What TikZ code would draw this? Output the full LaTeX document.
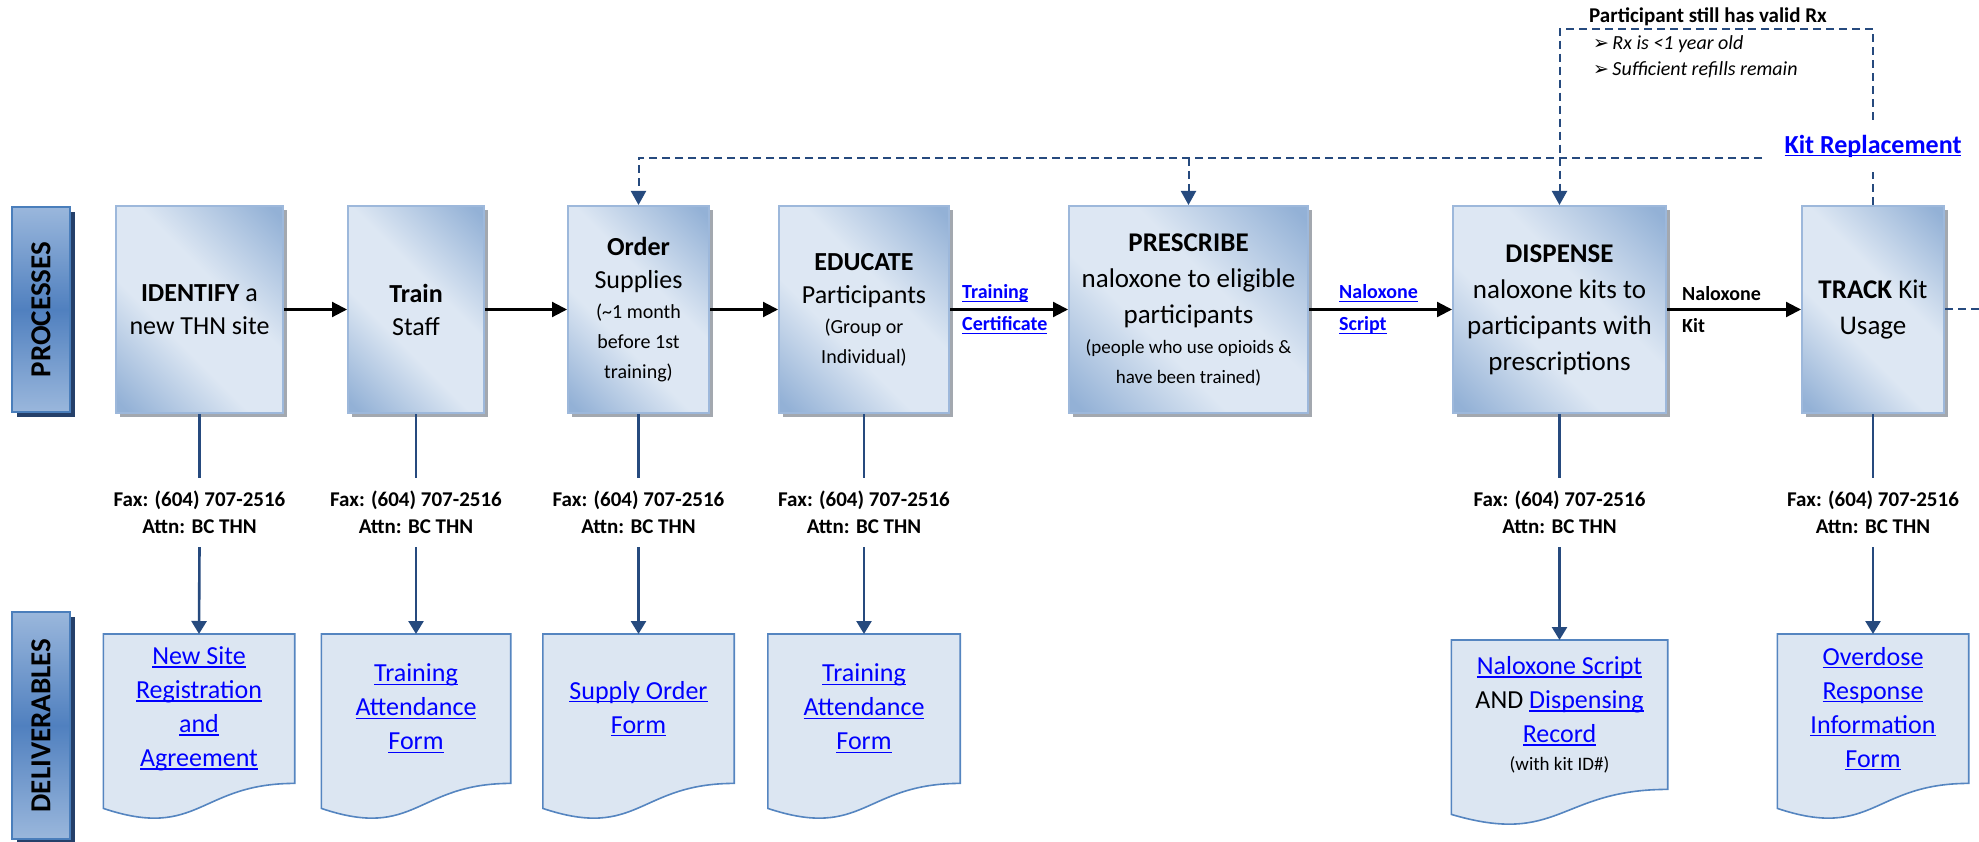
\documentclass[tikz,border=0pt]{standalone}
\usepackage{fontspec}
\setmainfont{Carlito}
\newfontfamily\dingfont{DejaVu Sans}
\usetikzlibrary{arrows.meta}
\usetikzlibrary{shadows}
\usetikzlibrary{backgrounds}
\usetikzlibrary{calc}
\usetikzlibrary{math}

\definecolor{procLight}{HTML}{DDE7F3}
\definecolor{procDark}{HTML}{93B1D6}
\definecolor{procBorder}{HTML}{9DB8DB}
\definecolor{procShadow}{HTML}{A3A8AF}
\definecolor{sideLight}{HTML}{9AB7DC}
\definecolor{sideDark}{HTML}{5080BF}
\definecolor{sideBorder}{HTML}{4A7EBB}
\definecolor{sideShadow}{HTML}{25406A}
\definecolor{docFill}{HTML}{DCE6F2}
\definecolor{docBorder}{HTML}{5585C0}
\definecolor{navy}{HTML}{264A7E}
\definecolor{linkblue}{HTML}{0000FF}

\pgfdeclarehorizontalshading{procshade}{100bp}{color(0bp)=(procDark); color(17bp)=(procDark); color(40bp)=(procLight); color(58bp)=(procLight); color(83bp)=(procDark); color(100bp)=(procDark)}

% underlined link text
\newsavebox{\lnkbox}
\newcommand{\lnk}[1]{\textcolor{linkblue}{\sbox{\lnkbox}{#1}\rlap{\rule[-3.4pt]{\wd\lnkbox}{1.4pt}}\usebox{\lnkbox}}}
\newcommand{\procfont}{\fontsize{26}{33}\selectfont}
\newcommand{\bigprocfont}{\fontsize{27}{36}\selectfont}
\newcommand{\notefont}{\fontsize{20}{30}\selectfont}
\newcommand{\faxfont}{\fontsize{21}{27}\selectfont\bfseries}
\newcommand{\docfont}{\fontsize{26}{34}\selectfont}
\newcommand{\docnotefont}{\fontsize{19}{28}\selectfont}
\newcommand{\labelfont}{\fontsize{20}{32}\selectfont\bfseries}
\newcommand{\sidefont}{\fontsize{29}{29}\selectfont\bfseries}

\tikzset{
  procbox/.style={rectangle, draw=procBorder, line width=2pt, shade, shading=procshade,
    shading angle=45, general shadow={fill=procShadow, shadow xshift=4pt, shadow yshift=-4pt},
    inner sep=0pt, minimum height=207pt, align=flush center, font=\procfont},
  sidebox/.style={rectangle, draw=sideBorder, line width=2.5pt, top color=sideLight,
    bottom color=sideLight, middle color=sideDark,
    general shadow={fill=sideShadow, shadow xshift=5pt, shadow yshift=-5pt},
    inner sep=0pt, minimum width=58pt, font=\sidefont},
  docnode/.style={inner sep=0pt, minimum height=149pt, anchor=north, align=flush center, font=\docfont},
  docline/.style={draw=docBorder, line width=1.6pt, fill=docFill},
  faxnode/.style={inner sep=0pt, minimum height=69pt, align=center, font=\faxfont},
  arrowlabel/.style={inner sep=0pt, anchor=west, align=left, font=\labelfont},
  flow/.style={line width=2.2pt, black, -{Triangle[length=15pt, width=15pt]}},
  vline/.style={line width=2.6pt, navy},
  docarrow/.style={vline, -{Triangle[length=13pt, width=15pt]}},
  loopline/.style={line width=2pt, navy, dash pattern=on 8pt off 5pt},
  looparrow/.style={loopline, -{Triangle[length=14pt, width=15pt]}},
}

\begin{document}
\begin{tikzpicture}[x=1pt, y=-1pt]

  \tikzmath{
    \rowy   = 309.5; % centre line of the process boxes
    \faxy   = 512.5; % centre of the fax notes
    \doctop = 634;   % top edge of the deliverables
  }

  \useasboundingbox (0,0) rectangle (1979,842);

  % Row labels
  \node[sidebox, minimum height=205pt] (procside) at (41,\rowy) {\rotatebox{90}{PROCESSES}};
  \node[sidebox, minimum height=227pt] (delivside) at (41,725.5) {\rotatebox{90}{DELIVERABLES}};

  % Process boxes
  \node[procbox, minimum width=167pt, text width=150pt] (identify) at (199.5,\rowy)
    {\textbf{IDENTIFY} a\\new THN site};
  \node[procbox, minimum width=136pt, text width=120pt] (train) at (416,\rowy)
    {\textbf{Train}\\Staff};
  \node[procbox, minimum width=141pt, text width=134pt] (order) at (638.5,\rowy)
    {\textbf{Order}\\Supplies\par{\notefont (\textasciitilde1 month\\before 1st\\training)\par}};
  \node[procbox, minimum width=170pt, text width=158pt] (educate) at (864,\rowy)
    {\textbf{EDUCATE}\\Participants\par{\notefont (Group or\\Individual)\par}};
  \node[procbox, minimum width=239pt, text width=239pt, font=\bigprocfont] (prescribe) at (1188.5,\rowy)
    {\textbf{PRESCRIBE}\\naloxone to eligible\\participants\par{\fontsize{19}{30}\selectfont (people who use opioids \&\\have been trained)\par}};
  \node[procbox, minimum width=213pt, text width=200pt, font=\bigprocfont] (dispense) at (1559.5,\rowy)
    {\textbf{DISPENSE}\\naloxone kits to\\participants with\\prescriptions};
  \node[procbox, minimum width=142pt, text width=132pt, font=\bigprocfont] (track) at (1873,\rowy)
    {\textbf{TRACK} Kit\\Usage};

  % Flow between the processes
  \draw[flow] (identify.east) -- (train.west);
  \draw[flow] (train.east) -- (order.west);
  \draw[flow] (order.east) -- (educate.west);
  \draw[flow] (educate.east) -- (prescribe.west);
  \draw[flow] (prescribe.east) -- (dispense.west);
  \draw[flow] (dispense.east) -- (track.west);

  \node[arrowlabel] (certlabel) at (962,\rowy) {\lnk{Training}\\\lnk{Certificate}};
  \node[arrowlabel] (scriptlabel) at (1339,\rowy) {\lnk{Naloxone}\\\lnk{Script}};
  \node[arrowlabel] (kitlabel) at (1682,\rowy) {Naloxone\\Kit};

  % Fax notes
  \node[faxnode] (fax1) at (identify |- 0,\faxy) {Fax: (604) 707-2516\\Attn: BC THN};
  \node[faxnode] (fax2) at (train |- 0,\faxy) {Fax: (604) 707-2516\\Attn: BC THN};
  \node[faxnode] (fax3) at (order |- 0,\faxy) {Fax: (604) 707-2516\\Attn: BC THN};
  \node[faxnode] (fax4) at (educate |- 0,\faxy) {Fax: (604) 707-2516\\Attn: BC THN};
  \node[faxnode] (fax5) at (dispense |- 0,\faxy) {Fax: (604) 707-2516\\Attn: BC THN};
  \node[faxnode] (fax6) at (track |- 0,\faxy) {Fax: (604) 707-2516\\Attn: BC THN};

  % Deliverables
  \node[docnode, minimum width=191pt, text width=176pt] (doc1) at (199,\doctop)
    {\lnk{New Site}\\\lnk{Registration}\\\lnk{and}\\\lnk{Agreement}};
  \node[docnode, minimum width=189pt, text width=176pt] (doc2) at (416,\doctop)
    {\lnk{Training}\\\lnk{Attendance}\\\lnk{Form}};
  \node[docnode, minimum width=191pt, text width=176pt] (doc3) at (638.5,\doctop)
    {\lnk{Supply Order}\\\lnk{Form}};
  \node[docnode, minimum width=192pt, text width=176pt] (doc4) at (864,\doctop)
    {\lnk{Training}\\\lnk{Attendance}\\\lnk{Form}};
  \node[docnode, minimum width=216pt, text width=200pt] (doc5) at (1559.5,640)
    {\lnk{Naloxone Script}\\AND \lnk{Dispensing}\\\lnk{Record}\par{\docnotefont (with kit ID\#)\par}};
  \node[docnode, minimum width=191pt, text width=176pt] (doc6) at (1873,\doctop)
    {\lnk{Overdose}\\\lnk{Response}\\\lnk{Information}\\\lnk{Form}};

  \begin{scope}[on background layer]
    \foreach \d in {doc1,doc2,doc3,doc4,doc5,doc6}
      \draw[docline] (\d.north west) -- (\d.north east) -- (\d.south east)
        .. controls (\d.south) and ($(\d.south)+(0,57)$) .. ($(\d.south west)+(0,25)$) -- cycle;
  \end{scope}

  % Process to fax to deliverable
  \draw[vline] (identify.south) -- (fax1.north);
  \draw[docarrow] (fax1.south) -- (doc1.north);
  \draw[vline] (train.south) -- (fax2.north);
  \draw[docarrow] (fax2.south) -- (doc2.north);
  \draw[vline] (order.south) -- (fax3.north);
  \draw[docarrow] (fax3.south) -- (doc3.north);
  \draw[vline] (educate.south) -- (fax4.north);
  \draw[docarrow] (fax4.south) -- (doc4.north);
  \draw[vline] (dispense.south) -- (fax5.north);
  \draw[docarrow] (fax5.south) -- (doc5.north);
  \draw[vline] (track.south) -- (fax6.north);
  \draw[docarrow] (fax6.south) -- (doc6.north);

  % Kit replacement loops
  \node[inner sep=0pt, minimum height=52pt, font=\fontsize{26}{30}\selectfont\bfseries] (kitrep)
    at (1873,146) {\lnk{Kit Replacement}};
  \node[inner sep=0pt, font=\fontsize{21}{26}\selectfont\bfseries] (rxtitle)
    at (1708,17) {Participant still has valid Rx};
  \node[inner sep=0pt, anchor=north west, align=left, font=\fontsize{20}{26}\selectfont\itshape] (rxlist)
    at (1593,35) {{\dingfont\upshape\fontsize{19}{26}\selectfont ➢}\,Rx is <1 year old\\
                  {\dingfont\upshape\fontsize{19}{26}\selectfont ➢}\,Sufficient refills remain};

  \coordinate (kitline) at (1762,158);
  \coordinate (rxline) at (1715,29);
  \coordinate (rightend) at (1979,\rowy);

  \draw[looparrow] (kitline) -| (order.north);
  \draw[looparrow] (prescribe.north |- kitline) -- (prescribe.north);
  \draw[loopline] (track.north) -- (kitrep.south);
  \draw[looparrow] (kitrep.north) |- (rxline) -| (dispense.north);
  \draw[loopline] (track.east) -- (rightend);

\end{tikzpicture}
\end{document}
